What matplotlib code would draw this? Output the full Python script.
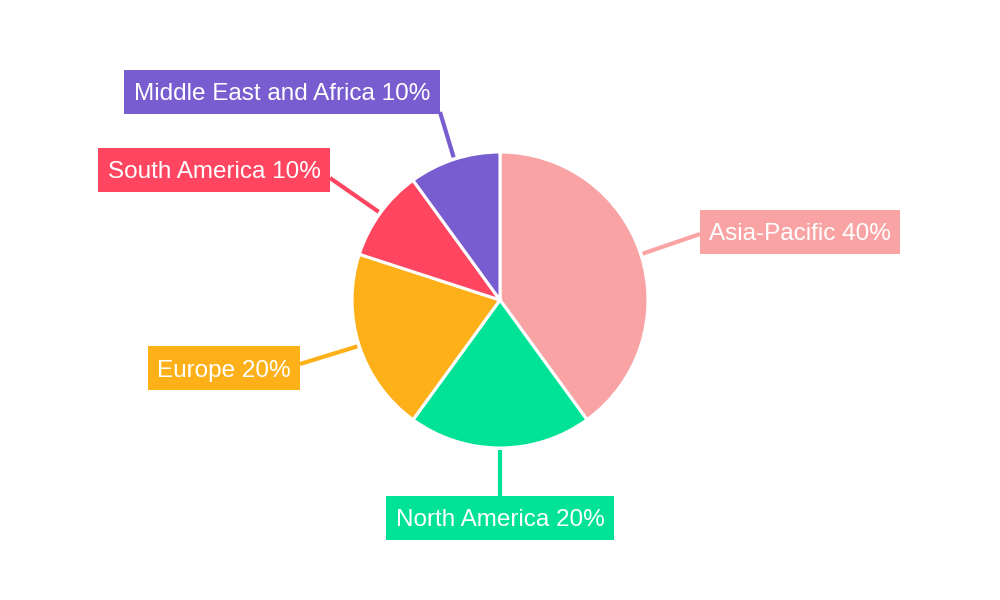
import numpy as np
import matplotlib
matplotlib.use("Agg")
import matplotlib.pyplot as plt
from matplotlib.patches import Rectangle

regions = ["Asia-Pacific", "North America", "Europe", "South America", "Middle East and Africa"]
shares = [40, 20, 20, 10, 10]
colors = ["#F9A3A4", "#00E396", "#FEB019", "#FF4560", "#775DD0"]

# layout (pixel coords, y from top): label boxes [x0, y0, x1, y1] and connector end points
boxes = [(700, 210, 900, 254), (386, 496, 614, 540), (148, 346, 300, 390),
         (98, 148, 330, 192), (124, 70, 440, 114)]
line_ends = [(700, 234), (500, 496), (300, 364), (330, 178), (440, 112)]

W, H = 1000, 600
fig = plt.figure(figsize=(10, 6), dpi=100)
ax = fig.add_axes([0, 0, 1, 1])

cx, cy, R = 500, 300, 148
wedges, _ = ax.pie(shares, colors=colors, startangle=90, counterclock=False,
                   center=(cx, H - cy), radius=R, frame=True,
                   wedgeprops=dict(edgecolor="white", linewidth=2.2))
ax.set_xlim(0, W)
ax.set_ylim(0, H)
ax.set_aspect("equal")
ax.axis("off")

total = sum(shares)
cum = 0
for i, (lab, v) in enumerate(zip(regions, shares)):
    mid = (cum + v / 2) / total
    cum += v
    ang = 2 * np.pi * mid
    r0 = R + 2
    sx = cx + np.sin(ang) * r0
    sy = cy - np.cos(ang) * r0
    ex, ey = line_ends[i]
    ax.plot([sx, ex], [H - sy, H - ey], color=colors[i], lw=3, solid_capstyle="butt", zorder=3)
    x0, y0, x1, y1 = boxes[i]
    ax.add_patch(Rectangle((x0, H - y1), x1 - x0, y1 - y0, facecolor=colors[i],
                           edgecolor="none", zorder=4))
    ax.text((x0 + x1) / 2, H - (y0 + y1) / 2, f"{lab} {v}%", color="white",
            fontsize=17.5, family="Liberation Sans", ha="center", va="center_baseline", zorder=5)

fig.savefig("out.png", dpi=100, facecolor="white")
